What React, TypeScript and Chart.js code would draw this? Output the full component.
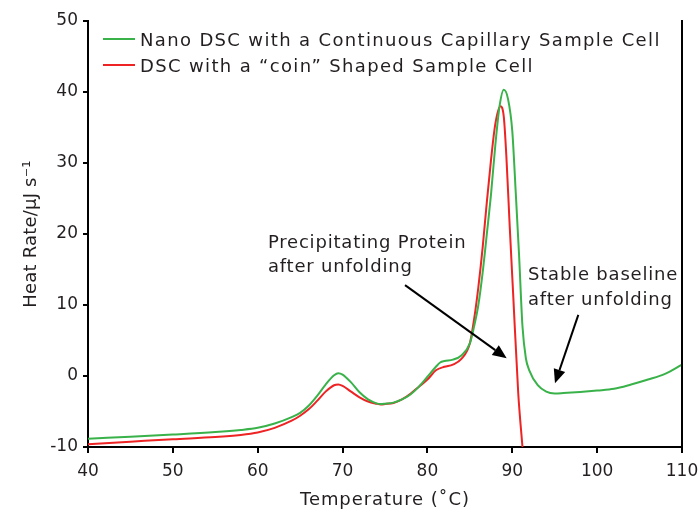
import React, { useEffect, useRef } from 'react';
import { Chart, registerables } from 'chart.js';

Chart.register(...registerables);

// ---- data ----
const seriesLabels = [
  'Nano DSC with a Continuous Capillary Sample Cell',
  'DSC with a \u201Ccoin\u201D Shaped Sample Cell',
];

const nanoTemps = [40, 45, 50, 55, 58, 60, 62, 64, 65, 66, 67, 68, 69, 69.5, 70, 71, 72, 73, 74, 74.5, 75, 76, 77, 78, 79, 80, 81, 81.5, 82, 83, 84, 85, 85.5, 86, 86.5, 87, 87.5, 88, 88.5, 89, 89.5, 90, 90.4, 90.8, 91.2, 91.6, 92, 93, 94, 95, 96, 98, 100, 102, 104, 106, 108, 110];
const nanoHeat = [-8.85, -8.55, -8.25, -7.9, -7.6, -7.3, -6.7, -5.8, -5.2, -4.2, -2.8, -1.2, 0.1, 0.4, 0.2, -0.9, -2.3, -3.3, -3.85, -3.95, -3.9, -3.75, -3.3, -2.6, -1.5, -0.1, 1.3, 1.9, 2.1, 2.3, 2.9, 4.6, 7.0, 10.0, 14.5, 20.0, 25.7, 32.5, 38.0, 40.3, 39.0, 34.5, 26.0, 17.0, 7.0, 2.5, 0.8, -1.3, -2.2, -2.45, -2.4, -2.25, -2.05, -1.8, -1.2, -0.5, 0.3, 1.6];

const coinTemps = [40, 45, 50, 55, 58, 60, 62, 64, 65, 66, 67, 68, 69, 69.5, 70, 71, 72, 73, 74, 74.5, 75, 76, 77, 78, 79, 80, 81, 82, 83, 84, 85, 85.5, 86, 86.5, 87, 87.5, 88, 88.6, 89, 89.3, 89.7, 90.1, 90.7, 91.2];
const coinHeat = [-9.6, -9.25, -8.9, -8.6, -8.3, -7.95, -7.3, -6.3, -5.6, -4.7, -3.5, -2.2, -1.3, -1.2, -1.4, -2.2, -3.0, -3.6, -3.9, -4.0, -3.95, -3.8, -3.3, -2.5, -1.5, -0.5, 0.8, 1.3, 1.6, 2.4, 4.6, 8.0, 12.5, 18.0, 24.5, 30.5, 35.5, 38.0, 36.5, 31.0, 21.0, 11.6, -2.4, -10.0];

const xTicks = [40, 50, 60, 70, 80, 90, 100, 110];
const yTicks = [-10, 0, 10, 20, 30, 40, 50];

const xTitle = 'Temperature (\u02DAC)';
const yTitle = 'Heat Rate/\u00B5J s\u207B\u00B9';

// annotation texts and arrow endpoints (data units: temperature, heat rate)
const noteTexts = [
  ['Precipitating Protein', 'after unfolding'],
  ['Stable baseline', 'after unfolding'],
];
const noteAnchors = [
  [61.2, 18.03],
  [91.85, 13.52],
];
const arrowStarts = [
  [77.36, 12.8],
  [97.78, 8.6],
];
const arrowEnds = [
  [89.34, 2.5],
  [95.03, -1.03],
];

// ---- styles ----
const GREEN = 'rgb(57,178,74)';
const RED = 'rgb(237,35,36)';
const FONT = '"DejaVu Sans", sans-serif';
const TEXT = '#231f20';

const overlayPlugin = {
  id: 'overlay',
  afterDraw(chart: any) {
    const { ctx, chartArea, scales } = chart;
    const xs = scales.x;
    const ys = scales.y;
    ctx.save();
    // right border
    ctx.strokeStyle = '#000';
    ctx.lineWidth = 2;
    ctx.beginPath();
    ctx.moveTo(chartArea.right, chartArea.top - 1);
    ctx.lineTo(chartArea.right, chartArea.bottom);
    ctx.stroke();

    // legend
    ctx.font = `18px ${FONT}`;
    ctx.letterSpacing = '1.35px';
    ctx.textBaseline = 'alphabetic';
    ctx.textAlign = 'left';
    const colors = [GREEN, RED];
    seriesLabels.forEach((lab, i) => {
      const yl = chartArea.top + 18 + i * 26;
      const x0 = chartArea.left + 15;
      ctx.strokeStyle = colors[i];
      ctx.lineWidth = 2;
      ctx.beginPath();
      ctx.moveTo(x0, yl);
      ctx.lineTo(x0 + 32, yl);
      ctx.stroke();
      ctx.fillStyle = TEXT;
      ctx.fillText(lab, x0 + 37, yl + 6.7);
    });

    // annotation texts
    ctx.letterSpacing = '0.8px';
    noteTexts.forEach((lines, i) => {
      const px = xs.getPixelForValue(noteAnchors[i][0]);
      const py = ys.getPixelForValue(noteAnchors[i][1]);
      lines.forEach((ln, j) => {
        ctx.fillText(ln, px, py + j * 24.5);
      });
    });

    // axis titles
    ctx.letterSpacing = '0.9px';
    ctx.textAlign = 'center';
    ctx.textBaseline = 'middle';
    ctx.fillText(xTitle, (chartArea.left + chartArea.right) / 2, 500);
    ctx.save();
    ctx.letterSpacing = '0.2px';
    ctx.translate(31, (chartArea.top + chartArea.bottom) / 2);
    ctx.rotate(-Math.PI / 2);
    ctx.fillText(yTitle, 0, 0);
    ctx.restore();
    ctx.letterSpacing = '0px';

    // arrows
    ctx.strokeStyle = '#000';
    ctx.fillStyle = '#000';
    arrowStarts.forEach((s, i) => {
      const x1 = xs.getPixelForValue(s[0]);
      const y1 = ys.getPixelForValue(s[1]);
      const x2 = xs.getPixelForValue(arrowEnds[i][0]);
      const y2 = ys.getPixelForValue(arrowEnds[i][1]);
      const ang = Math.atan2(y2 - y1, x2 - x1);
      const hl = 14;
      const hw = 6;
      const bx = x2 - hl * Math.cos(ang);
      const by = y2 - hl * Math.sin(ang);
      ctx.lineWidth = 2;
      ctx.beginPath();
      ctx.moveTo(x1, y1);
      ctx.lineTo(bx, by);
      ctx.stroke();
      ctx.beginPath();
      ctx.moveTo(x2, y2);
      ctx.lineTo(bx + hw * Math.sin(ang), by - hw * Math.cos(ang));
      ctx.lineTo(bx - hw * Math.sin(ang), by + hw * Math.cos(ang));
      ctx.closePath();
      ctx.fill();
    });
    ctx.restore();
  },
};

export default function App() {
  const ref = useRef<HTMLCanvasElement>(null);
  useEffect(() => {
    if (!ref.current) return;
    const chart = new Chart(ref.current, {
      type: 'line',
      data: {
        datasets: [
          {
            label: seriesLabels[0],
            data: nanoTemps.map((t, i) => ({ x: t, y: nanoHeat[i] })),
            borderColor: GREEN,
            borderWidth: 2,
            pointRadius: 0,
            cubicInterpolationMode: 'monotone',
            fill: false,
          },
          {
            label: seriesLabels[1],
            data: coinTemps.map((t, i) => ({ x: t, y: coinHeat[i] })),
            borderColor: RED,
            borderWidth: 2,
            pointRadius: 0,
            cubicInterpolationMode: 'monotone',
            fill: false,
          },
        ],
      },
      options: {
        animation: false,
        responsive: false,
        layout: { padding: { left: 0, right: 18, top: 21, bottom: 0 } },
        plugins: { legend: { display: false }, tooltip: { enabled: false } },
        scales: {
          x: {
            type: 'linear',
            min: 40,
            max: 110,
            afterBuildTicks: (s: any) => { s.ticks = xTicks.map((v) => ({ value: v })); },
            afterFit: (s: any) => { s.height = 67; s.paddingRight = 0; s.paddingLeft = 0; },
            grid: { display: true, drawOnChartArea: false, drawTicks: true, tickLength: 6, color: '#000', lineWidth: 2 },
            border: { display: true, color: '#000', width: 2 },
            ticks: { color: TEXT, font: { family: FONT, size: 17 }, padding: 8, maxRotation: 0 },
            title: { display: false },
          },
          y: {
            type: 'linear',
            min: -10,
            max: 50,
            afterBuildTicks: (s: any) => { s.ticks = yTicks.map((v) => ({ value: v })); },
            afterFit: (s: any) => { s.width = 88; s.paddingTop = 0; s.paddingBottom = 0; },
            grid: { display: true, drawOnChartArea: false, drawTicks: true, tickLength: 5, color: '#000', lineWidth: 2 },
            border: { display: true, color: '#000', width: 2 },
            ticks: { color: TEXT, font: { family: FONT, size: 17 }, padding: 5 },
            title: { display: false },
          },
        },
      },
      plugins: [overlayPlugin],
    } as any);
    return () => chart.destroy();
  }, []);
  return (
    <div style={{ position: 'fixed', left: 0, top: 0, width: 700, height: 514, background: '#fff' }}>
      <canvas ref={ref} width={700} height={514} style={{ display: 'block' }} />
    </div>
  );
}
